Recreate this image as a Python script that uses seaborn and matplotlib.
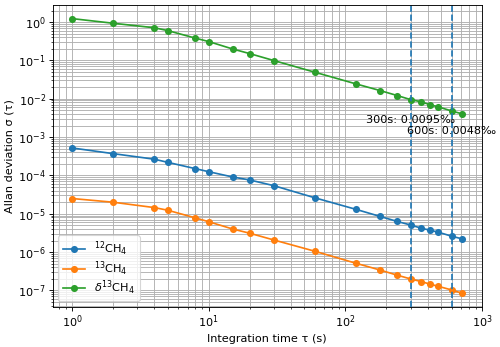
import numpy as np
import pandas as pd
import seaborn as sns
import matplotlib.pyplot as plt

# Integration times (s)
tau = [1, 2, 4, 5, 8, 10, 15, 20, 30, 60, 120, 180, 240, 300, 360, 420, 480, 600, 720]

# Allan deviation for each series
adev_12ch4 = [5.2e-4, 3.7e-4, 2.65e-4, 2.2e-4, 1.5e-4, 1.25e-4, 9.1e-5, 7.6e-5, 5.4e-5,
              2.6e-5, 1.3e-5, 8.5e-6, 6.3e-6, 5.1e-6, 4.2e-6, 3.7e-6, 3.3e-6, 2.6e-6, 2.2e-6]
adev_13ch4 = [2.5e-5, 2.0e-5, 1.45e-5, 1.24e-5, 7.8e-6, 6.2e-6, 4.0e-6, 3.1e-6, 2.07e-6,
              1.05e-6, 5.1e-7, 3.4e-7, 2.5e-7, 2.0e-7, 1.7e-7, 1.45e-7, 1.28e-7, 1.03e-7, 8.4e-8]
adev_d13ch4 = [1.23, 0.93, 0.71, 0.60, 0.38, 0.31, 0.198, 0.150, 0.099,
               0.049, 0.0243, 0.0163, 0.0121, 0.0095, 0.0083, 0.0069, 0.0061, 0.0048, 0.0040]

labels = [r'$^{12}$CH$_4$', r'$^{13}$CH$_4$', r'$\delta^{13}$CH$_4$']

# Marked integration times
mark_tau = [300, 600]
mark_val = [0.0095, 0.0048]

dpi = 81
fig, ax = plt.subplots(figsize=(500 / dpi, 347 / dpi), dpi=dpi)
fig.subplots_adjust(left=0.105, right=0.964, top=0.986, bottom=0.115)

for y, lab, c in zip([adev_12ch4, adev_13ch4, adev_d13ch4], labels, ['C0', 'C1', 'C2']):
    sns.lineplot(x=tau, y=y, ax=ax, marker='o', color=c, label=lab,
                 markersize=6.3, markeredgewidth=0)

ax.set_xscale('log')
ax.set_yscale('log')
ax.grid(True, which='both')
ax.tick_params(axis='both', which='major', pad=2.5)

for t, v in zip(mark_tau, mark_val):
    ax.axvline(t, color='C0', linestyle='--')
    ax.text(t, v * 0.3, f'{t}s: {v}‰', ha='center', va='center')

ax.set_xlabel('Integration time τ (s)', labelpad=3)
ax.set_ylabel('Allan deviation σ (τ)', labelpad=3)
ax.legend(loc='lower left', labelspacing=0.08)

fig.savefig('out.png', dpi=dpi)
